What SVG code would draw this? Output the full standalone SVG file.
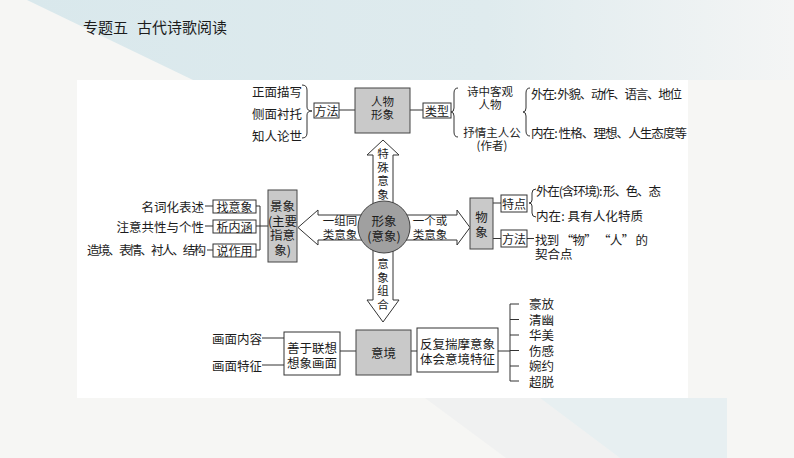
<svg xmlns="http://www.w3.org/2000/svg" width="794" height="458" viewBox="0 0 794 458">
<style>
.t{font-family:"Noto Sans CJK SC","Noto Sans",sans-serif;font-size:12.5px;fill:#1c1c1c;dominant-baseline:central}
.s{font-size:11.5px}
.m{text-anchor:middle}
.e{text-anchor:end}
.box{fill:#fff;stroke:#333;stroke-width:1}
.gbox{fill:#c9c9c9;stroke:#444;stroke-width:1}
.ln{stroke:#333;stroke-width:1;fill:none}
.arr{fill:#fff;stroke:#333;stroke-width:1}
</style>
<defs>
<linearGradient id="topg" x1="0" y1="0" x2="1" y2="0">
<stop offset="0" stop-color="#d9e8ec"/>
<stop offset="0.6" stop-color="#dfebee"/>
<stop offset="1" stop-color="#f4f5f5"/>
</linearGradient>
</defs>
<!-- background -->
<rect x="0" y="0" width="794" height="458" fill="#f6f6f4"/>
<polygon points="27,0 794,0 794,80 193,80" fill="url(#topg)"/>
<polygon points="425,398 540,398 620,458 506,458" fill="#f0f1f1"/>
<polygon points="540,398 727,398 727,458 620,458" fill="#e7eff1"/>
<rect x="77" y="80" width="611" height="318" fill="#fff"/>
<!-- title -->
<text class="t" x="83" y="26" style="font-size:15px">专题五</text>
<text class="t" x="137" y="26" style="font-size:15px">古代诗歌阅读</text>

<!-- connectors -->
<g id="connectors">
<path class="ln" d="M302,85 Q307,85 307,90 L307,107 Q307,111 312,111 Q307,111 307,115 L307,133 Q307,138 302,138"/>
<line class="ln" x1="339" y1="110" x2="355" y2="110"/>
<line class="ln" x1="410" y1="110" x2="423" y2="110"/>
<path class="ln" d="M458,88 Q454,88 454,93 L454,108 Q454,112 451,112 Q454,112 454,116 L454,132 Q454,137 458,137"/>
<path class="ln" d="M530,88 Q526,88 526,93 L526,108 Q526,112 523,112 Q526,112 526,116 L526,131 Q526,136 530,136"/>
<line class="ln" x1="205" y1="206" x2="213" y2="206"/>
<line class="ln" x1="205" y1="226" x2="213" y2="226"/>
<line class="ln" x1="207" y1="250" x2="213" y2="250"/>
<line class="ln" x1="256" y1="206" x2="260" y2="206"/>
<line class="ln" x1="256" y1="226" x2="268" y2="226"/>
<line class="ln" x1="256" y1="250" x2="260" y2="250"/>
<line class="ln" x1="260" y1="206" x2="260" y2="250"/>
<line class="ln" x1="493" y1="203" x2="501" y2="203"/>
<line class="ln" x1="493" y1="238.5" x2="501" y2="238.5"/>
<path class="ln" d="M536,189 Q532,189 532,193 L532,200 Q532,203 529,203 Q532,203 532,206 L532,213 Q532,217 536,217"/>
<line class="ln" x1="527" y1="238.5" x2="534" y2="238.5"/>
<line class="ln" x1="262" y1="338" x2="284" y2="338"/>
<line class="ln" x1="262" y1="365" x2="284" y2="365"/>
<line class="ln" x1="340" y1="351" x2="356" y2="351"/>
<line class="ln" x1="411" y1="351" x2="417" y2="351"/>
<line class="ln" x1="498" y1="351" x2="510" y2="351"/>
<line class="ln" x1="510" y1="304" x2="510" y2="381"/>
<line class="ln" x1="510" y1="304" x2="519" y2="304"/>
<line class="ln" x1="510" y1="319.5" x2="519" y2="319.5"/>
<line class="ln" x1="510" y1="335" x2="519" y2="335"/>
<line class="ln" x1="510" y1="350.5" x2="519" y2="350.5"/>
<line class="ln" x1="510" y1="366" x2="519" y2="366"/>
<line class="ln" x1="510" y1="381" x2="519" y2="381"/>
<polygon class="arr" points="373,210 373,155 367,155 383,140 399,155 393,155 393,210"/>
<polygon class="arr" points="370,215 318,215 318,210 298,227.5 318,245 318,240 370,240"/>
<polygon class="arr" points="396,215 457,215 457,210 470,227.5 457,245 457,240 396,240"/>
<polygon class="arr" points="373,245 373,300 367,300 383,322 399,300 393,300 393,245"/>
</g>

<g id="arrow-labels">
<text class="t s m"><tspan x="383" y="153">特</tspan><tspan x="383" y="166.5">殊</tspan><tspan x="383" y="180">意</tspan><tspan x="383" y="193.5">象</tspan></text>
<text class="t s m"><tspan x="340" y="220">一组同</tspan><tspan x="340" y="233.5">类意象</tspan></text>
<text class="t s m"><tspan x="430" y="220">一个或</tspan><tspan x="430" y="233.5">类意象</tspan></text>
<text class="t s m"><tspan x="383" y="263">意</tspan><tspan x="383" y="276.5">象</tspan><tspan x="383" y="290">组</tspan><tspan x="383" y="303.5">合</tspan></text>
</g>

<g id="center">
<circle cx="384" cy="227" r="26" fill="#a0a0a0" stroke="#444" stroke-width="1"/>
<text class="t m"><tspan x="384" y="220">形象</tspan><tspan x="384" y="234.5">(意象)</tspan></text>
</g>

<g id="renwu">
<rect class="gbox" x="355" y="88" width="55" height="45"/>
<text class="t s m"><tspan x="382.5" y="101">人物</tspan><tspan x="382.5" y="114">形象</tspan></text>
</g>
<g id="fangfa-top">
<rect class="box" x="314" y="103" width="25" height="15"/>
<text class="t m" x="326.5" y="110.5" style="font-size:12px">方法</text>
<text class="t e" x="302" y="91">正面描写</text>
<text class="t e" x="302" y="113">侧面衬托</text>
<text class="t e" x="302" y="135">知人论世</text>
</g>
<g id="leixing">
<rect class="box" x="423" y="103" width="28" height="15"/>
<text class="t m" x="437" y="110.5" style="font-size:12px">类型</text>
<text class="t s m"><tspan x="490" y="91">诗中客观</tspan><tspan x="490" y="104">人物</tspan></text>
<text class="t s m"><tspan x="492" y="132">抒情主人公</tspan><tspan x="492" y="145">(作者)</tspan></text>
<text class="t" x="531" y="93" textLength="151" lengthAdjust="spacing">外在: 外貌、动作、语言、地位</text>
<text class="t" x="531" y="132" textLength="156" lengthAdjust="spacing">内在: 性格、理想、人生态度等</text>
</g>

<g id="jingxiang">
<rect class="gbox" x="268" y="190" width="29" height="72"/>
<text class="t m"><tspan x="282.5" y="205">景象</tspan><tspan x="282.5" y="219.5">(主要</tspan><tspan x="282.5" y="234">指意</tspan><tspan x="282.5" y="248.5">象)</tspan></text>
</g>
<g id="jingxiang-methods">
<rect class="box" x="213" y="200" width="43" height="13"/>
<text class="t m" x="234.5" y="206.5" style="font-size:12px">找意象</text>
<rect class="box" x="213" y="220" width="43" height="13"/>
<text class="t m" x="234.5" y="226.5" style="font-size:12px">析内涵</text>
<rect class="box" x="213" y="244" width="43" height="13"/>
<text class="t m" x="234.5" y="250.5" style="font-size:12px">说作用</text>
<text class="t e" x="204" y="206">名词化表述</text>
<text class="t e" x="204" y="226">注意共性与个性</text>
<text class="t e" x="206" y="249" textLength="119" lengthAdjust="spacing">造境、表情、衬人、结构</text>
</g>

<g id="wuxiang">
<rect class="gbox" x="470" y="198" width="23" height="51"/>
<text class="t m"><tspan x="481.5" y="216">物</tspan><tspan x="481.5" y="231">象</tspan></text>
</g>
<g id="tedian">
<rect class="box" x="501" y="195" width="26" height="17"/>
<text class="t m" x="514" y="203.5" style="font-size:12px">特点</text>
<text class="t" x="536" y="190" textLength="125" lengthAdjust="spacing">外在(含环境): 形、色、态</text>
<text class="t" x="536" y="215" textLength="107" lengthAdjust="spacing">内在: 具有人化特质</text>
</g>
<g id="fangfa-right">
<rect class="box" x="501" y="230" width="26" height="17"/>
<text class="t m" x="514" y="238.5" style="font-size:12px">方法</text>
<text class="t"><tspan x="535" y="238.5" textLength="113" lengthAdjust="spacing">找到 “物” “人” 的</tspan><tspan x="535" y="253">契合点</tspan></text>
</g>

<g id="yijing">
<rect class="gbox" x="356" y="330" width="55" height="45"/>
<text class="t m" x="383.5" y="352">意境</text>
</g>
<g id="lianxiang">
<rect class="box" x="284" y="332" width="56" height="43"/>
<text class="t m"><tspan x="312" y="346.5">善于联想</tspan><tspan x="312" y="361.5">想象画面</tspan></text>
<text class="t e" x="262" y="338">画面内容</text>
<text class="t e" x="262" y="365">画面特征</text>
</g>
<g id="chuaimo">
<rect class="box" x="417" y="328" width="81" height="44"/>
<text class="t m"><tspan x="457.5" y="342.5">反复揣摩意象</tspan><tspan x="457.5" y="357.5">体会意境特征</tspan></text>
</g>
<g id="fengge">
<text class="t"><tspan x="529" y="303">豪放</tspan><tspan x="529" y="318.5">清幽</tspan><tspan x="529" y="334">华美</tspan><tspan x="529" y="349.5">伤感</tspan><tspan x="529" y="365">婉约</tspan><tspan x="529" y="380.5">超脱</tspan></text>
</g>
</svg>
